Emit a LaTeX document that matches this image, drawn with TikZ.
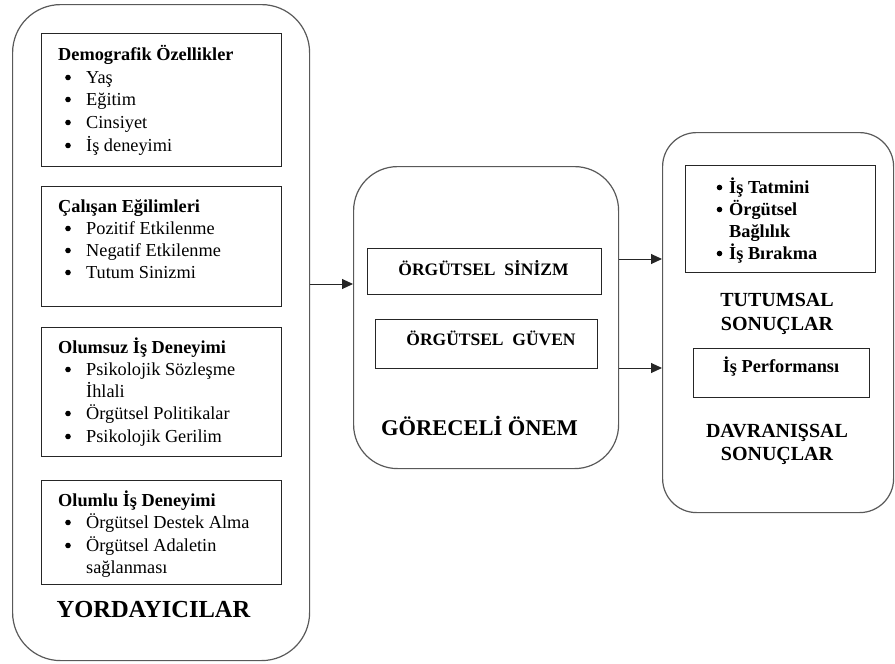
\documentclass[tikz,border=0pt]{standalone}
\usepackage{fontspec}
\setmainfont{Liberation Serif}
\usetikzlibrary{arrows.meta}
\tikzset{
  outerbox/.style={draw=black!65, line width=1.2pt, inner sep=0pt, anchor=north west},
  inbox/.style={draw=black!85, line width=1.1pt, inner sep=0pt, anchor=north west},
  ln/.style={anchor=base west, inner sep=0pt, font=\fontsize{18.3}{22}\selectfont},
  hd/.style={anchor=base west, inner sep=0pt, font=\bfseries\fontsize{18.3}{22}\selectfont},
  bl/.style={anchor=base west, inner sep=0pt, font=\bfseries\fontsize{18.3}{22}\selectfont},
  mid/.style={anchor=base, inner sep=0pt, font=\bfseries\fontsize{17.5}{22}\selectfont},
  big/.style={anchor=base, inner sep=0pt, font=\bfseries\fontsize{20}{24}\selectfont},
  dot/.style={circle, fill=black, inner sep=0pt, minimum size=5.6pt},
  arr/.style={draw=black!85, line width=1pt, -{Triangle[length=11pt,width=10pt]}}
}
\begin{document}
\begin{tikzpicture}[x=1pt,y=-1pt]
\useasboundingbox (0,0) rectangle (895,664);

% outer rounded boxes
\node[outerbox, rounded corners=48pt, minimum width=297pt, minimum height=656pt] (L) at (12,4) {};
\node[outerbox, rounded corners=44pt, minimum width=265pt, minimum height=302pt] (M) at (353,166) {};
\node[outerbox, rounded corners=34pt, minimum width=231pt, minimum height=380pt] (R) at (662,132) {};

% left inner boxes
\node[inbox, minimum width=240pt, minimum height=133pt] (b1) at (41,33) {};
\node[inbox, minimum width=240pt, minimum height=120pt] (b2) at (41,186) {};
\node[inbox, minimum width=240pt, minimum height=129pt] (b3) at (41,327) {};
\node[inbox, minimum width=240pt, minimum height=104pt] (b4) at (41,480) {};

% bullets (left)
\foreach \yy in {83,105,128,151,234,256,278,375,419,442,528,551}
  \node[dot] at (68,\yy-5.5) {};

\node[hd] (h1) at (58,60) {Demografik Özellikler};
\node[ln] (i11) at (86,83) {Yaş};
\node[ln] (i12) at (86,105) {Eğitim};
\node[ln] (i13) at (86,128) {Cinsiyet};
\node[ln] (i14) at (86,151) {İş deneyimi};

\node[hd] (h2) at (58,212) {Çalışan Eğilimleri};
\node[ln] (i21) at (86,234) {Pozitif Etkilenme};
\node[ln] (i22) at (86,256) {Negatif Etkilenme};
\node[ln] (i23) at (86,278) {Tutum Sinizmi};

\node[hd] (h3) at (58,353) {Olumsuz İş Deneyimi};
\node[ln] (i31) at (86,375) {Psikolojik Sözleşme};
\node[ln] (i32) at (86,397) {İhlali};
\node[ln] (i33) at (86,419) {Örgütsel Politikalar};
\node[ln] (i34) at (86,442) {Psikolojik Gerilim};

\node[hd] (h4) at (58,506) {Olumlu İş Deneyimi};
\node[ln] (i41) at (86,528) {Örgütsel Destek Alma};
\node[ln] (i42) at (86,551) {Örgütsel Adaletin};
\node[ln] (i43) at (86,573) {sağlanması};

\node[anchor=base, inner sep=0pt, font=\bfseries\fontsize{24.5}{28}\selectfont] (yord) at (153.5,617) {YORDAYICILAR};

% middle
\node[inbox, minimum width=234pt, minimum height=46pt] (sin) at (367,248) {};
\node[mid] (sint) at (483.5,275) {ÖRGÜTSEL\ \ SİNİZM};
\node[inbox, minimum width=222pt, minimum height=49pt] (guv) at (375,319) {};
\node[mid] (guvt) at (491,345) {ÖRGÜTSEL\ \ GÜVEN};
\node[anchor=base, inner sep=0pt, font=\bfseries\fontsize{22.5}{26}\selectfont] (gor) at (479.5,435) {GÖRECELİ ÖNEM};

% right
\node[inbox, minimum width=190pt, minimum height=107pt] (rb1) at (685,165) {};
\foreach \yy in {193,215,259}
  \node[dot] at (719.5,\yy-5.5) {};
\node[bl] (r1) at (729,193) {İş Tatmini};
\node[bl] (r2) at (729,215) {Örgütsel};
\node[bl] (r3) at (729,237) {Bağlılık};
\node[bl] (r4) at (729,259) {İş Bırakma};

\node[big] (tut1) at (777,306) {TUTUMSAL};
\node[big] (tut2) at (777,330) {SONUÇLAR};

\node[inbox, minimum width=176pt, minimum height=49pt] (rb2) at (693,348) {};
\node[bl, anchor=base] (perf) at (781,372) {İş Performansı};

\node[big] (dav1) at (777,437) {DAVRANIŞSAL};
\node[big] (dav2) at (777,460) {SONUÇLAR};

% arrows
\coordinate (y1) at (0,284);
\coordinate (y2) at (0,259);
\coordinate (y3) at (0,368);
\draw[arr] (L.east |- y1) -- (M.west |- y1);
\draw[arr] (M.east |- y2) -- (R.west |- y2);
\draw[arr] (M.east |- y3) -- (R.west |- y3);
\end{tikzpicture}
\end{document}
